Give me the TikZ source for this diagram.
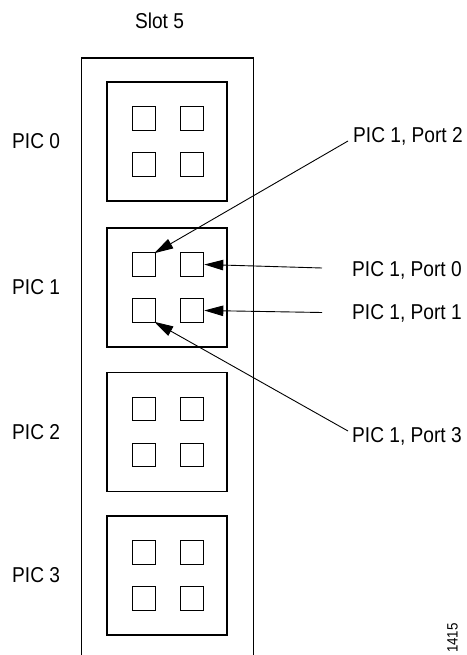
\documentclass[tikz,border=0pt]{standalone}
\usepackage{fontspec}
\setmainfont{Liberation Sans}[FakeStretch=0.89]
\usetikzlibrary{arrows.meta}
\begin{document}
\begin{tikzpicture}[x=1pt,y=-1pt,
  lbl/.style={font=\fontsize{21.5}{24}\selectfont, inner sep=0pt},
  picbox/.style={draw, line width=1.1pt, minimum width=120pt, minimum height=119pt, inner sep=0pt},
  portbox/.style={draw, line width=1.1pt, minimum size=23.5pt, inner sep=0pt},
  pointer/.style={line width=0.9pt, -{Triangle[length=19pt,width=10.5pt]}}]
\useasboundingbox (0,0) rectangle (466,655);
% slot frame (open at bottom)
\draw[line width=1.1pt] (81.5,660) -- (81.5,58) -- (253.5,58) -- (253.5,660);
\node[lbl] (slot) at (159.5,21) {Slot 5};
% PIC boxes
\foreach \i/\yc in {0/141.5,1/287.5,2/432,3/575.5}{
  \node[picbox] (pic\i) at (167,\yc) {};
  \node[lbl, anchor=west] (lab\i) at (12,\yc) {PIC \i};
  \node[portbox] (pic\i tl) at (144,\yc-23) {};
  \node[portbox] (pic\i tr) at (192,\yc-23) {};
  \node[portbox] (pic\i bl) at (144,\yc+23) {};
  \node[portbox] (pic\i br) at (192,\yc+23) {};
}
% port labels
\node[lbl, anchor=west] (port2) at (353,136) {PIC 1, Port 2};
\node[lbl, anchor=west] (port0) at (352,270) {PIC 1, Port 0};
\node[lbl, anchor=west] (port1) at (352,313) {PIC 1, Port 1};
\node[lbl, anchor=west] (port3) at (352,436) {PIC 1, Port 3};
\coordinate (s2) at (348,141);
\coordinate (s0) at (322,268);
\coordinate (s1) at (322,312.5);
\coordinate (s3) at (348,431);
\draw[pointer] (s2) -- ([xshift=-2pt,yshift=-1pt]pic1tl.north east);
\draw[pointer] (s0) -- (pic1tr.east);
\draw[pointer] (s1) -- (pic1br.east);
\draw[pointer] (s3) -- ([xshift=-2pt,yshift=1pt]pic1bl.south east);
% figure number
\node[font=\fontsize{15}{17}\selectfont, inner sep=0pt, rotate=90] (fignum) at (452.5,638) {1415};
\end{tikzpicture}
\end{document}
